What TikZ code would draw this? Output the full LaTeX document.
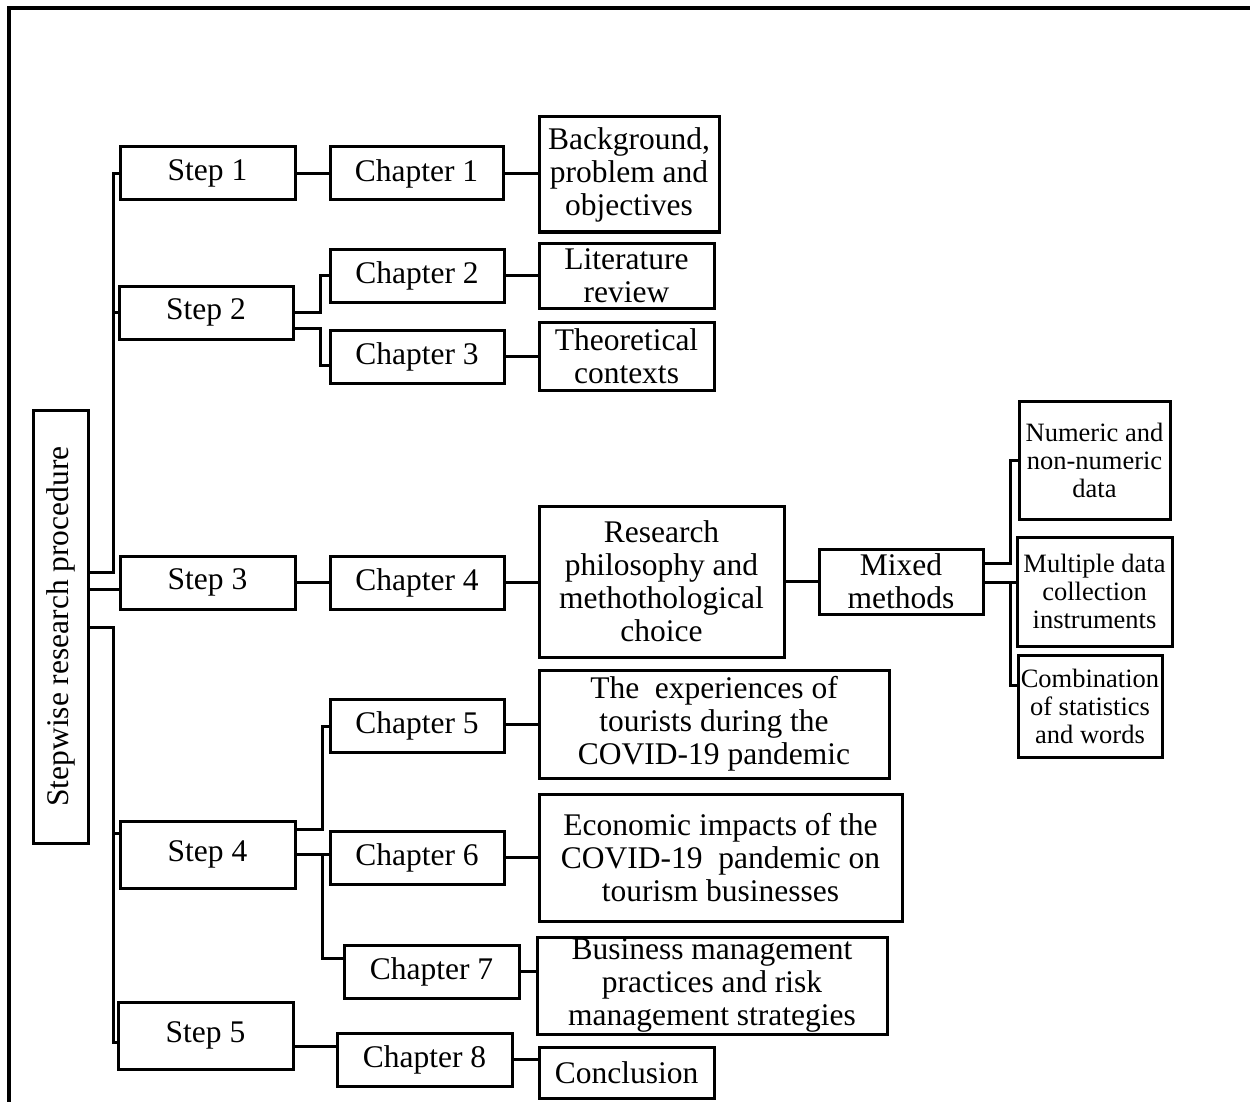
\documentclass[tikz,border=0pt]{standalone}
\usepackage{fontspec}
\setmainfont{Liberation Serif}
\usetikzlibrary{calc}
\begin{document}
\begin{tikzpicture}[x=1pt,y=-1pt,
  box/.style={draw, line width=3pt, inner sep=0pt, align=center,
              font=\fontsize{31.5}{33}\selectfont},
  smallbox/.style={box, font=\fontsize{26.5}{28}\selectfont},
  link/.style={draw, line width=3pt}]
\useasboundingbox (0,0) rectangle (1250,1102);

% outer frame
\draw[line width=3.4pt] (9,1110) -- (9,8) -- (1260,8);

% root
\node[box, minimum width=55, minimum height=433] (main) at (60.5,626.5)
  {\rotatebox{90}{Stepwise research procedure}};

% steps
\node[box, minimum width=175, minimum height=53] (s1) at (207.5,173.5) {Step 1};
\node[box, minimum width=174, minimum height=53] (s2) at (206,312.5) {Step 2};
\node[box, minimum width=175, minimum height=53] (s3) at (207.5,582.5) {Step 3};
\node[box, minimum width=175, minimum height=67] (s4) at (207.5,854.5) {Step 4};
\node[box, minimum width=175, minimum height=67] (s5) at (205.5,1035.5) {Step 5};

% chapters
\node[box, minimum width=173, minimum height=53] (c1) at (416.5,173.5) {Chapter 1};
\node[box, minimum width=174, minimum height=53] (c2) at (417,275.5) {Chapter 2};
\node[box, minimum width=174, minimum height=53] (c3) at (417,356.5) {Chapter 3};
\node[box, minimum width=174, minimum height=53] (c4) at (417,582.5) {Chapter 4};
\node[box, minimum width=174, minimum height=53] (c5) at (417,725.5) {Chapter 5};
\node[box, minimum width=174, minimum height=53] (c6) at (417,857.5) {Chapter 6};
\node[box, minimum width=175, minimum height=53] (c7) at (431.5,971.5) {Chapter 7};
\node[box, minimum width=175, minimum height=53] (c8) at (424.5,1059.5) {Chapter 8};

% chapter contents
\node[box, minimum width=180, minimum height=115] (bg) at (629,174.5)
  {Background,\\problem and\\objectives};
\node[box, minimum width=175, minimum height=65] (lit) at (626.5,275.5)
  {Literature\\review};
\node[box, minimum width=175, minimum height=68] (theo) at (626.5,356)
  {Theoretical\\contexts};
\node[box, minimum width=245, minimum height=151] (rp) at (661.5,581.5)
  {Research\\philosophy and\\methothological\\choice};
\node[box, minimum width=350, minimum height=108] (exp) at (714,724)
  {The~~experiences of\\tourists during the\\COVID-19 pandemic};
\node[box, minimum width=363, minimum height=127] (econ) at (720.5,857.5)
  {Economic impacts of the\\COVID-19~~pandemic on\\tourism businesses};
\node[box, minimum width=350, minimum height=97] (bus) at (712,985.5)
  {Business management\\practices and risk\\management strategies};
\node[box, minimum width=175, minimum height=51] (conc) at (626.5,1072.5)
  {Conclusion};

% methodology branch
\node[box, minimum width=164, minimum height=65] (mixed) at (901,581.5)
  {Mixed\\methods};
\node[smallbox, minimum width=151, minimum height=118] (num) at (1094.5,460)
  {Numeric and\\non-numeric\\data};
\node[smallbox, minimum width=155, minimum height=109] (multi) at (1094.5,591.5)
  {Multiple data\\collection\\instruments};
\node[smallbox, minimum width=144, minimum height=102] (comb) at (1090,706)
  {Combination\\of statistics\\and words};

% trunks of the forks
\coordinate (trunk) at (113,0);
\coordinate (fork2) at (320,0);
\coordinate (fork4) at (322,0);
\coordinate (forkm) at (1010,0);

% root to steps
\draw[link] (main.east |- 0,572) -| (trunk |- s1.west) -- (s1.west);
\draw[link] (trunk |- s2.west) -- (s2.west);
\draw[link] (main.east |- 0,589) -- (s3.west |- 0,589);
\draw[link] (main.east |- 0,627) -| (trunk |- 0,1042) -- (s5.west |- 0,1042);
\draw[link] (trunk |- 0,833) -- (s4.west |- 0,833);

% steps to chapters
\draw[link] (s1.east) -- (c1.west);
\draw[link] (s2.east |- 0,312) -| (fork2 |- c2.west) -- (c2.west);
\draw[link] (s2.east |- 0,328) -| (fork2 |- 0,365) -- (c3.west |- 0,365);
\draw[link] (s3.east) -- (c4.west);
\draw[link] (s4.east |- 0,829) -| (fork4 |- 0,726) -- (c5.west |- 0,726);
\draw[link] (s4.east |- 0,854) -- (c6.west |- 0,854);
\draw[link] (fork4 |- 0,854) |- (c7.west |- 0,958);
\draw[link] (s5.east |- 0,1046) -- (c8.west |- 0,1046);

% chapters to contents
\draw[link] (c1.east) -- (bg.west |- c1.east);
\draw[link] (c2.east) -- (lit.west |- c2.east);
\draw[link] (c3.east) -- (theo.west |- c3.east);
\draw[link] (c4.east) -- (rp.west |- c4.east);
\draw[link] (c5.east |- 0,724) -- (exp.west |- 0,724);
\draw[link] (c6.east) -- (econ.west |- c6.east);
\draw[link] (c7.east) -- (bus.west |- c7.east);
\draw[link] (c8.east) -- (conc.west |- c8.east);

% methodology
\draw[link] (rp.east) -- (mixed.west |- rp.east);
\draw[link] (mixed.east |- 0,563) -| (forkm |- num.west) -- (num.west);
\draw[link] (mixed.east |- 0,582) -- (multi.west |- 0,582);
\draw[link] (forkm |- 0,582) |- (comb.west |- 0,685);
\end{tikzpicture}
\end{document}
